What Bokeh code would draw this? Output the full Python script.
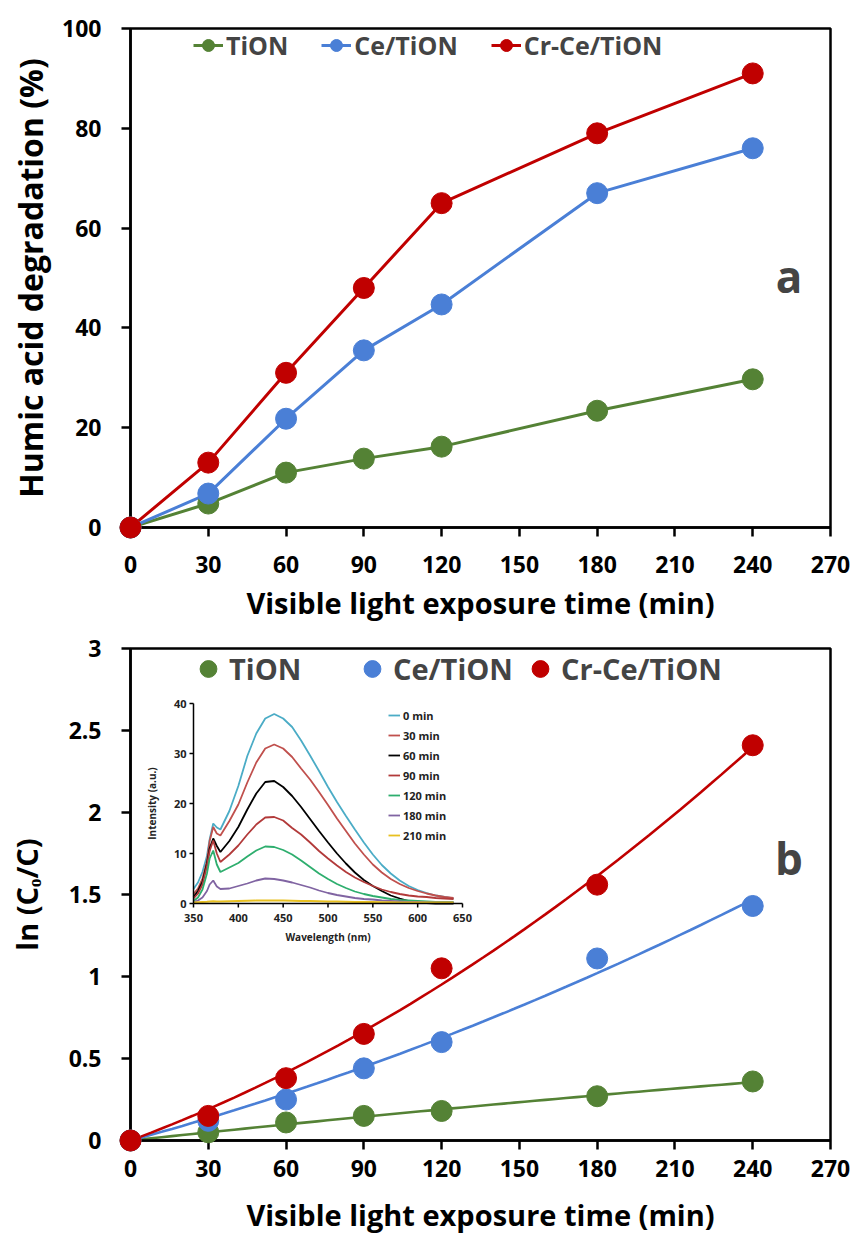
import numpy as np
from bokeh.plotting import figure
from bokeh.models import Range1d, Legend, LegendItem, Label, FixedTicker
from bokeh.layouts import column
from bokeh.embed import file_html
from bokeh.resources import INLINE
from bokeh.core.properties import value

# ---------------- data ----------------
time_min = [0, 30, 60, 90, 120, 180, 240]
series_names = ["TiON", "Ce/TiON", "Cr-Ce/TiON"]

deg_tion = [0, 4.8, 11.0, 13.8, 16.2, 23.4, 29.7]
deg_ce = [0, 6.8, 21.8, 35.5, 44.7, 67.0, 76.0]
deg_crce = [0, 13.0, 31.0, 48.0, 65.0, 79.0, 91.0]

ln_tion = [0, 0.05, 0.11, 0.15, 0.18, 0.27, 0.36]
ln_ce = [0, 0.12, 0.25, 0.44, 0.60, 1.11, 1.43]
ln_crce = [0, 0.15, 0.38, 0.65, 1.05, 1.56, 2.41]

x_ticks = [0, 30, 60, 90, 120, 150, 180, 210, 240, 270]
ya_ticks = [0, 20, 40, 60, 80, 100]
yb_ticks = [0, 0.5, 1, 1.5, 2, 2.5, 3]
yb_labels = ["0", "0.5", "1", "1.5", "2", "2.5", "3"]

# inset: emission spectra
wavelength = [350, 355, 360, 365, 368, 372, 376, 380, 390, 400, 410, 420, 430, 440,
              450, 460, 470, 480, 490, 500, 510, 520, 530, 540, 550, 560, 570, 580,
              590, 600, 610, 620, 630, 640]
spec_0 = [2.9, 4.2, 6.3, 9.5, 12.8, 16.0, 15.2, 14.8, 18.5, 23.5, 29.5, 34.0, 37.0, 37.9,
          37.0, 35.3, 32.6, 29.6, 26.5, 23.3, 20.3, 17.5, 14.8, 12.2, 9.8, 7.7, 6.0, 4.6,
          3.5, 2.7, 2.1, 1.6, 1.3, 1.0]
spec_30 = [1.9, 3.0, 5.0, 8.5, 12.5, 15.3, 14.0, 13.6, 16.5, 19.8, 24.2, 28.2, 31.0, 31.8,
           31.0, 29.3, 27.0, 24.8, 22.3, 19.7, 17.0, 14.5, 12.0, 9.8, 7.8, 6.2, 4.9, 3.9,
           3.1, 2.5, 2.0, 1.6, 1.3, 1.1]
spec_60 = [1.3, 2.5, 4.3, 8.0, 11.0, 13.0, 11.5, 10.3, 12.5, 15.3, 18.8, 22.0, 24.3, 24.5,
           23.3, 21.5, 19.3, 16.9, 14.5, 12.2, 10.0, 8.0, 6.2, 4.7, 3.5, 2.5, 1.6, 1.0,
           0.5, 0.2, 0.1, 0.0, 0.0, 0.0]
spec_90 = [1.0, 2.0, 3.8, 7.5, 10.5, 12.6, 10.0, 8.3, 9.8, 11.6, 13.8, 15.8, 17.2, 17.3,
           16.6, 15.1, 13.8, 12.2, 10.5, 9.0, 7.6, 6.3, 5.2, 4.3, 3.5, 2.8, 2.3, 1.9,
           1.6, 1.4, 1.3, 1.1, 1.0, 0.9]
spec_120 = [0.5, 1.2, 2.8, 6.0, 9.0, 10.6, 7.8, 6.3, 7.2, 8.1, 9.4, 10.6, 11.4, 11.3,
            10.7, 9.8, 8.6, 7.3, 6.0, 4.9, 3.9, 3.1, 2.4, 1.9, 1.5, 1.2, 0.9, 0.7,
            0.6, 0.5, 0.4, 0.3, 0.3, 0.3]
spec_180 = [0.3, 0.6, 1.2, 2.5, 3.8, 4.6, 3.4, 2.9, 3.0, 3.5, 4.0, 4.6, 5.0, 4.9,
            4.6, 4.2, 3.7, 3.2, 2.6, 2.1, 1.7, 1.4, 1.1, 0.9, 0.8, 0.6, 0.5, 0.4,
            0.3, 0.3, 0.2, 0.2, 0.2, 0.2]
spec_210 = [0.2, 0.25, 0.3, 0.35, 0.4, 0.45, 0.4, 0.4, 0.45, 0.5, 0.55, 0.6, 0.6, 0.6,
            0.6, 0.55, 0.5, 0.5, 0.45, 0.4, 0.4, 0.35, 0.3, 0.3, 0.3, 0.25, 0.25, 0.2,
            0.2, 0.2, 0.2, 0.2, 0.2, 0.2]
spec_labels = ["0 min", "30 min", "60 min", "90 min", "120 min", "180 min", "210 min"]
inset_x_ticks = [350, 400, 450, 500, 550, 600, 650]
inset_y_ticks = [0, 10, 20, 30, 40]

# ---------------- style ----------------
FONT = "Open Sans"
C_TION = "#548235"
C_CE = "#4A7FD6"
C_CRCE = "#C00000"
spec_colors = ["#4BACC6", "#C0504D", "#000000", "#B23A3A", "#2EAE6E", "#8064A2", "#E8C020"]

W = 855


def style_axes(p, ylabel, ysize):
    p.outline_line_color = "black"
    p.outline_line_width = 2.5
    p.outline_line_alpha = 1.0
    p.xgrid.visible = False
    p.ygrid.visible = False
    p.background_fill_color = "white"
    p.border_fill_color = "white"
    for ax in (p.xaxis, p.yaxis):
        ax.axis_line_color = "black"
        ax.axis_line_width = 2.5
        ax.major_tick_line_color = "black"
        ax.major_tick_line_width = 2.5
        ax.major_tick_in = 0
        ax.major_tick_out = 9
        ax.minor_tick_line_color = None
        ax.major_label_text_font = FONT
        ax.major_label_text_font_style = "bold"
        ax.major_label_text_font_size = "23px"
        ax.major_label_text_color = "black"
        ax.axis_label_text_font = FONT
        ax.axis_label_text_font_style = "bold"
        ax.axis_label_text_color = "black"
    p.xaxis.axis_label_text_font_size = "29px"
    p.yaxis.axis_label_text_font_size = ysize
    p.xaxis.ticker = FixedTicker(ticks=x_ticks)
    p.xaxis.axis_label = "Visible light exposure time (min)"
    p.yaxis.axis_label = ylabel
    p.yaxis.major_label_standoff = 20


xmax = x_ticks[-1]

# ---------------- panel a ----------------
H1 = 630
p1 = figure(width=W, height=H1, x_range=Range1d(0, xmax), y_range=Range1d(0, ya_ticks[-1]),
            output_backend="svg", toolbar_location=None,
            min_border_left=130, min_border_right=W - 832, min_border_top=28, min_border_bottom=H1 - 527)
style_axes(p1, "Humic acid degradation (%)", "32px")
p1.yaxis.ticker = FixedTicker(ticks=ya_ticks)
p1.yaxis.axis_label_standoff = 7
p1.xaxis.major_label_standoff = 19
p1.xaxis.axis_label_standoff = 7

items_a = []
for name, ys, col in zip(series_names, [deg_tion, deg_ce, deg_crce], [C_TION, C_CE, C_CRCE]):
    l = p1.line(time_min, ys, line_color=col, line_width=3)
    s = p1.scatter(time_min, ys, size=21, fill_color=col, line_color=col, level="overlay")
    items_a.append(LegendItem(label=name, renderers=[l, s]))

leg_a = Legend(items=items_a, orientation="horizontal", location=(63, 465),
               glyph_width=30, glyph_height=30, label_standoff=3, spacing=33,
               padding=0, margin=0, border_line_color=None, background_fill_alpha=0,
               label_text_font=FONT, label_text_font_style="bold", label_text_font_size="25px")
p1.add_layout(leg_a)

p1.add_layout(Label(x=254, y=50.5, text="a", text_font=FONT, text_font_style="bold",
                    text_font_size="44px", text_align="center", text_baseline="middle"))

# ---------------- panel b ----------------
H2 = 613
top2 = H1
frame_left, frame_right, frame_top, frame_bottom = 130, 830, 648, 1140
p2 = figure(width=W, height=H2, x_range=Range1d(0, xmax), y_range=Range1d(0, yb_ticks[-1]),
            output_backend="svg", toolbar_location=None,
            min_border_left=frame_left, min_border_right=W - frame_right,
            min_border_top=frame_top - top2, min_border_bottom=top2 + H2 - frame_bottom)
style_axes(p2, "ln (C\u2092/C)", "29px")
p2.yaxis.ticker = FixedTicker(ticks=yb_ticks)
p2.yaxis.major_label_overrides = {t: s for t, s in zip(yb_ticks, yb_labels)}
p2.yaxis.axis_label_standoff = 20
p2.xaxis.major_label_standoff = 10
p2.xaxis.axis_label_standoff = 15

t = np.array(time_min, dtype=float)
tt = np.linspace(0, max(time_min), 61)
legend_b_x = [57, 221, 389]   # px from the frame's left edge, one legend box per series
for name, ys, col, lx in zip(series_names, [ln_tion, ln_ce, ln_crce], [C_TION, C_CE, C_CRCE], legend_b_x):
    A = np.vstack([t, t ** 2]).T
    coef, *_ = np.linalg.lstsq(A, np.array(ys), rcond=None)
    fit = coef[0] * tt + coef[1] * tt ** 2
    p2.line(tt, fit, line_color=col, line_width=2.6)
    s = p2.scatter(time_min, ys, size=21, fill_color=col, line_color=col, level="overlay")
    leg = Legend(items=[LegendItem(label=name, renderers=[s])], orientation="horizontal",
                 location=(lx, 449), glyph_width=42, glyph_height=45, label_standoff=0,
                 padding=0, margin=0, border_line_color=None, background_fill_alpha=0,
                 label_text_font=FONT, label_text_font_style="bold", label_text_font_size="29px")
    p2.add_layout(leg)

p2.add_layout(Label(x=254, y=1.72, text="b", text_font=FONT, text_font_style="bold",
                    text_font_size="44px", text_align="center", text_baseline="middle"))

# ---------------- inset (drawn inside panel b on its own ranges) ----------------
ix0, ix1, iy0, iy1 = 193, 462, 703, 903   # inset box in page px
kx = (inset_x_ticks[-1] - inset_x_ticks[0]) / (ix1 - ix0)
ky = (inset_y_ticks[-1] - inset_y_ticks[0]) / (iy1 - iy0)
wl_start = inset_x_ticks[0] - (ix0 - frame_left) * kx
wl_end = inset_x_ticks[-1] + (frame_right - ix1) * kx
in_start = inset_y_ticks[0] - (frame_bottom - iy1) * ky
in_end = inset_y_ticks[-1] + (iy0 - frame_top) * ky
p2.extra_x_ranges = {"wl": Range1d(wl_start, wl_end)}
p2.extra_y_ranges = {"inten": Range1d(in_start, in_end)}

inset_items = []
for lab, sp, col in zip(spec_labels, [spec_0, spec_30, spec_60, spec_90, spec_120, spec_180, spec_210],
                        spec_colors):
    r = p2.line(wavelength, sp, line_color=col, line_width=1.8, x_range_name="wl", y_range_name="inten")
    inset_items.append(LegendItem(label=lab, renderers=[r]))

x0w, x1w = inset_x_ticks[0], inset_x_ticks[-1]
y0i, y1i = inset_y_ticks[0], inset_y_ticks[-1]
ax_kw = dict(line_color="black", line_width=1.5, x_range_name="wl", y_range_name="inten")
p2.segment(x0=[x0w, x0w], y0=[y0i, y0i], x1=[x1w, x0w], y1=[y0i, y1i], **ax_kw)
tick = 4
p2.segment(x0=inset_x_ticks, y0=[y0i] * len(inset_x_ticks), x1=inset_x_ticks,
           y1=[y0i - tick * ky] * len(inset_x_ticks), **ax_kw)
p2.segment(x0=[x0w] * len(inset_y_ticks), y0=inset_y_ticks, x1=[x0w - tick * kx] * len(inset_y_ticks),
           y1=inset_y_ticks, **ax_kw)
txt_kw = dict(text_font=value(FONT), text_font_style="bold", text_color="#222222",
              x_range_name="wl", y_range_name="inten")
p2.text(x=inset_x_ticks, y=[y0i - 10 * ky] * len(inset_x_ticks), text=[str(v) for v in inset_x_ticks],
        text_align="center", text_baseline="top", text_font_size="11px", **txt_kw)
p2.text(x=[x0w - 7 * kx] * len(inset_y_ticks), y=inset_y_ticks, text=[str(v) for v in inset_y_ticks],
        text_align="right", text_baseline="middle", text_font_size="11px", **txt_kw)
p2.text(x=[(x0w + x1w) / 2], y=[y0i - 26 * ky], text=["Wavelength (nm)"], text_align="center",
        text_baseline="top", text_font_size="10px", **txt_kw)
p2.text(x=[x0w - 42 * kx], y=[(y0i + y1i) / 2], text=["Intensity (a.u.)"], angle=np.pi / 2,
        text_align="center", text_baseline="middle", text_font_size="10px", **txt_kw)

leg_in = Legend(items=inset_items, orientation="vertical", location=(388 - frame_left, frame_bottom - 845),
                glyph_width=12, glyph_height=20, label_height=20, label_standoff=3, spacing=0,
                padding=0, margin=0, border_line_color=None, background_fill_alpha=0,
                label_text_font=FONT, label_text_font_style="bold", label_text_font_size="11px",
                label_text_color="#222222")
p2.add_layout(leg_in)

layout = column(p1, p2, spacing=0)
open("out.html", "w").write(file_html(layout, INLINE))
